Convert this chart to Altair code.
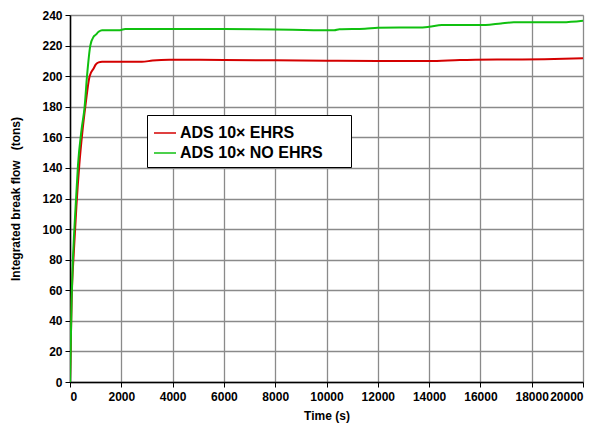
import altair as alt
import pandas as pd

series_names = ["ADS 10× EHRS", "ADS 10× NO EHRS"]
series_colors = ["#d40000", "#10c010"]

green_t = [0, 25, 60, 103, 233, 312, 450, 570, 663, 792, 920, 1000, 1115, 1250,
           1950, 2150, 4000, 6000, 8000, 9500, 10300, 10500, 11500, 12000, 13600,
           14000, 14500, 16200, 16800, 17300, 19200, 20000]
green_v = [0, 20, 52, 75, 119, 142, 165, 180, 200, 220, 225.8, 227, 229, 230.1,
           230.1, 230.9, 230.9, 230.8, 230.5, 230.1, 230.0, 230.7, 231.0, 231.7, 231.8,
           232.3, 233.4, 233.5, 234.5, 235.2, 235.3, 236.3]

red_t = [0, 25, 64, 150, 250, 363, 480, 597, 765, 920, 1000, 1115, 1250, 2800,
         3220, 3870, 6000, 8000, 10000, 12000, 14000, 15200, 17000, 18500, 20000]
red_v = [0, 20, 53, 85, 115, 142, 163, 180, 200, 205, 207.5, 209, 209.4, 209.4,
         210.2, 210.7, 210.6, 210.4, 210.1, 209.9, 209.9, 210.5, 210.9, 211.1, 211.7]

x_ticks = list(range(0, 20001, 2000))
y_ticks = list(range(0, 241, 20))

df = pd.concat([
    pd.DataFrame({"t": red_t, "v": red_v, "s": series_names[0], "o": range(len(red_t))}),
    pd.DataFrame({"t": green_t, "v": green_v, "s": series_names[1], "o": range(len(green_t))}),
])

FONT = "Liberation Sans"
NB = "\u00a0"

axis_style = dict(
    labelFont=FONT, labelFontSize=12, labelFontWeight="bold", labelColor="black",
    titleFont=FONT, titleFontSize=12, titleFontWeight="bold", titleColor="black",
    domainColor="black", domainWidth=1.5, tickColor="black", tickSize=5,
    gridColor="#8a8a8a", gridOpacity=1, gridWidth=1.3,
)

chart = alt.Chart(df).mark_line(strokeWidth=2, interpolate="monotone", clip=True).encode(
    x=alt.X("t:Q", scale=alt.Scale(domain=[0, 20000], nice=False, zero=False),
            axis=alt.Axis(values=x_ticks, format="d", title="Time (s)",
                          titleX=256.5, titleY=33, titleBaseline="middle",
                          labelPadding=4, **axis_style)),
    y=alt.Y("v:Q", scale=alt.Scale(domain=[0, 240], nice=False),
            axis=alt.Axis(values=y_ticks, format="d",
                          title="Integrated break flow" + NB * 3 + "(tons)",
                          titleX=-55, titleY=183.5, titleAngle=270,
                          titleAlign="center", titleBaseline="middle", labelPadding=3,
                          **axis_style)),
    color=alt.Color("s:N", scale=alt.Scale(domain=series_names, range=series_colors),
                    legend=alt.Legend(title=None, orient="none", legendX=77, legendY=100,
                                      symbolType="stroke", symbolSize=484,
                                      symbolStrokeWidth=1.5, labelFontSize=16,
                                      labelFontWeight="bold", labelFont=FONT,
                                      labelOffset=3, rowPadding=0, padding=6,
                                      labelLimit=400,
                                      labelExpr="datum.label + '" + NB * 5 + "\u200b'",
                                      strokeColor="black", fillColor="white")),
    order="o:Q",
).properties(
    width=513, height=367,
    autosize=alt.AutoSizeParams(type="none"),
    padding={"left": 70, "top": 15, "right": 19, "bottom": 41},
).configure_view(
    stroke="black", strokeWidth=1.5
).configure(background="white")

chart.save("out.html", embed_options={"renderer": "svg", "actions": False})
